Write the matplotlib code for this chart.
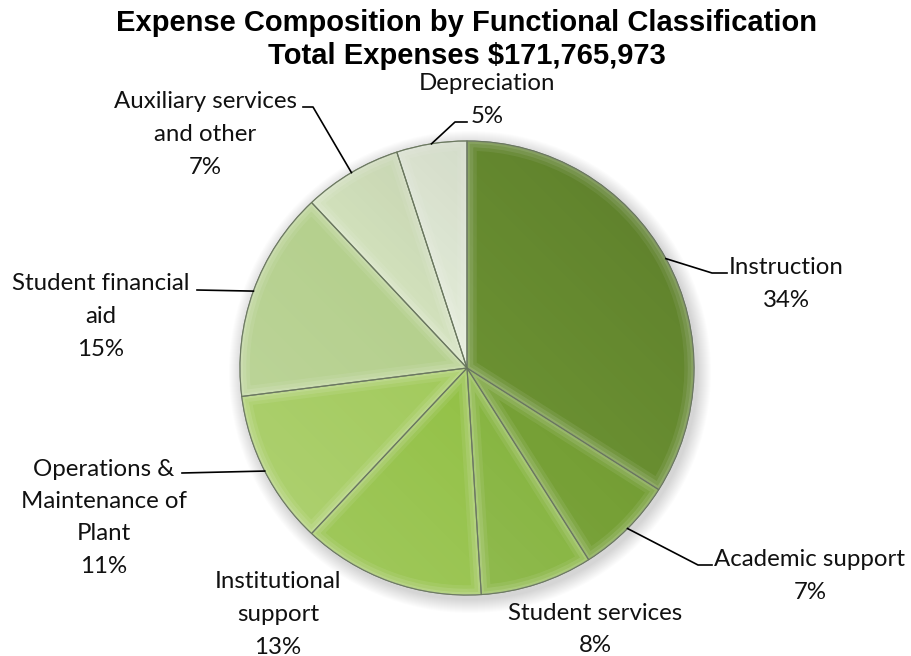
import numpy as np
import matplotlib
matplotlib.use('Agg')
import matplotlib.pyplot as plt
from matplotlib.patches import Circle, Wedge

# expense shares, clockwise from 12 o'clock
categories = ['Instruction', 'Academic support', 'Student services',
              'Institutional\nsupport', 'Operations &\nMaintenance of\nPlant',
              'Student financial\naid', 'Auxiliary services\nand other',
              'Depreciation']
shares = [34, 7, 8, 13, 11, 15, 7, 5]
colors = ['#6b9132', '#76a036', '#87b541', '#93c146', '#a2ca5c',
          '#b5d08e', '#d2e1bc', '#e3ecd8']

title_lines = ['Expense Composition by Functional Classification',
               'Total Expenses $171,765,973']

W, H = 911, 656
CX, CY, R = 467, H - 368, 227

# label centre (first line) and leader elbow points, in pixel coords from top-left
label_pos = [(786, 266), (810, 558), (595, 611), (278, 580),
             (104, 467), (101, 282), (205, 100), (487, 82)]
leaders = [[(712, 273), (727, 273)],
           [(698, 565), (712, 565)],
           None,
           None,
           [(182, 473)],
           [(197, 290)],
           [(313, 107), (303, 107)],
           [(455, 122), (467, 122)]]

LABEL_FONT = ['Lato', 'DejaVu Sans']
LINE_PX = 32.5


def flip(p):
    return p[0], H - p[1]


fig = plt.figure(figsize=(W / 100, H / 100), dpi=100)
ax = fig.add_axes([0, 0, 1, 1])

# soft drop shadow under the pie
for k in range(14):
    ax.add_patch(Circle((CX + 3, CY - 4), R + 14 - k, color='#000000',
                        alpha=0.012, lw=0, zorder=0))

wedges, _ = ax.pie(shares, colors=colors, startangle=90, counterclock=False,
                   center=(CX, CY), radius=R,
                   wedgeprops=dict(edgecolor='#66745a', linewidth=0.8))

# bevel: light band along each wedge's inner border, clipped to the wedge
for w in wedges:
    for lw, a in [(14, 0.08), (9, 0.10), (4, 0.12)]:
        ax.add_patch(Wedge(w.center, w.r, w.theta1, w.theta2, fill=False,
                           edgecolor='white', linewidth=lw, alpha=a,
                           clip_path=w, zorder=2))

# light upper-left, darker lower-right across the disc
yy, xx = np.mgrid[-1:1:300j, -1:1:300j]
s = (xx - yy) / 2.0
rgba = np.zeros(s.shape + (4,))
rgba[..., :3] = np.where(s[..., None] < 0, 1.0, 0.0)
rgba[..., 3] = np.where(s < 0, -s * 0.16, s * 0.14)
img = ax.imshow(rgba, extent=(CX - R, CX + R, CY - R, CY + R), origin='upper',
                zorder=3, interpolation='bilinear')
img.set_clip_path(Circle((CX, CY), R, transform=ax.transData))

# re-stroke wedge borders on top
for w in wedges:
    ax.add_patch(Wedge(w.center, w.r, w.theta1, w.theta2, fill=False,
                       edgecolor='#66745a', linewidth=0.8, alpha=0.7, zorder=4))

for w, name, val, pos, elbow in zip(wedges, categories, shares, label_pos, leaders):
    lines = name.split('\n') + [f'{val}%']
    x, y = flip(pos)
    for i, line in enumerate(lines):
        ax.text(x, y - i * LINE_PX, line, ha='center', va='center_baseline',
                fontsize=17.3, family=LABEL_FONT, color='#111111', zorder=5)
    if elbow:
        mid = np.deg2rad((w.theta1 + w.theta2) / 2)
        pts = [(CX + R * np.cos(mid), CY + R * np.sin(mid))] + [flip(p) for p in elbow]
        ax.plot(*zip(*pts), color='black', lw=1.2, zorder=5)

for i, line in enumerate(title_lines):
    ax.text(467, H - 20 - i * 33, line, ha='center', va='center_baseline',
            fontsize=21, fontweight='bold', family='Liberation Sans')

ax.set_xlim(0, W)
ax.set_ylim(0, H)
ax.set_aspect('equal')
ax.axis('off')

fig.savefig('out.png', dpi=100)
